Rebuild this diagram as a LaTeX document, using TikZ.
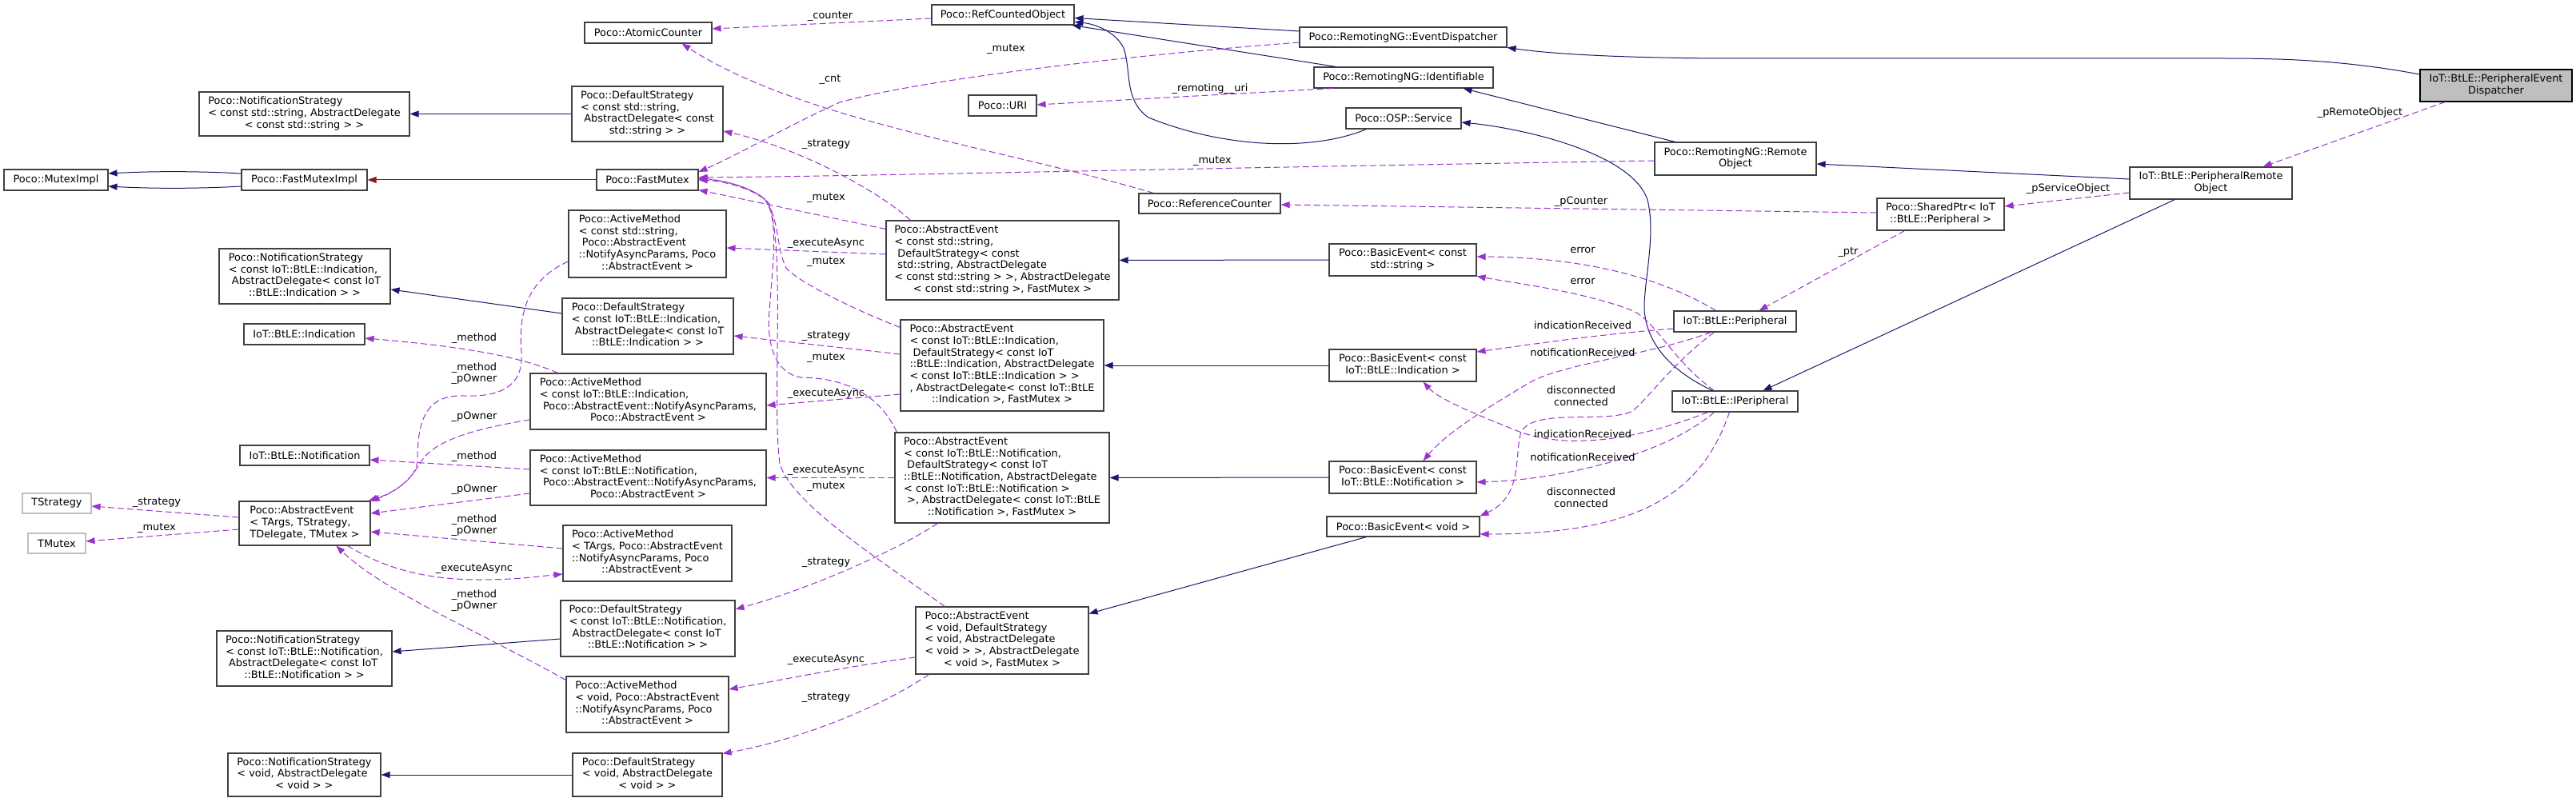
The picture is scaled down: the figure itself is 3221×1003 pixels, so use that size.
\documentclass[tikz,border=0pt]{standalone}
\usepackage{fontspec}
\setmainfont{DejaVu Sans}
\usetikzlibrary{arrows.meta,calc}
\definecolor{mblue}{HTML}{191970}
\definecolor{orchid}{HTML}{9A32CD}
\definecolor{fbrick}{HTML}{8B1A1A}
\definecolor{bord}{HTML}{404040}
\definecolor{grsev}{HTML}{BFBFBF}
\newcommand\lastln[1]{\multicolumn{1}{@{}c@{}}{#1}}
\newcommand\mlt[1]{\begin{tabular}{@{}l@{}}#1\end{tabular}}
\newcommand\mkbox[7][]{\node[box,#1,minimum width={(#5-#3)*1pt},minimum height={(#6-#4)*1pt}] (#2) at ({(#3+#5)/2},{(#4+#6)/2}) {#7};}
\begin{document}
\begin{tikzpicture}[x=1pt,y=-1pt,
  box/.style={draw=bord, line width=1.1pt, fill=white, inner sep=0pt, text=black, font=\fontsize{12.9}{14.67}\selectfont},
  lbl/.style={inner sep=0pt, align=center, text=black, font=\fontsize{12.9}{14.67}\selectfont},
  inh/.style={draw=mblue, line width=1pt, -{Triangle[length=11pt,width=8pt]}},
  priv/.style={draw=fbrick, line width=1pt, -{Triangle[length=11pt,width=8pt]}},
  dep/.style={draw=orchid, line width=1pt, dash pattern=on 8pt off 4pt, -{Triangle[length=11pt,width=8pt]}}]
\useasboundingbox (0,0) rectangle (3221,1003);
\fill[white] (0,0) rectangle (3221,1003);
% ---------------- nodes ----------------
\mkbox{mutexImpl}{5}{212}{135}{238}{Poco::MutexImpl}
\mkbox{fastMutexImpl}{302}{212}{459}{238}{Poco::FastMutexImpl}
\mkbox{fastMutex}{746}{212}{873}{238}{Poco::FastMutex}
\mkbox{atomicCounter}{731}{28}{890}{54}{Poco::AtomicCounter}
\mkbox{notifStrStr}{249}{115}{512}{170}{\mlt{Poco::NotificationStrategy\\< const std::string, AbstractDelegate\\\lastln{< const std::string > >}}}
\mkbox{defStrStr}{715}{108}{904}{177}{\mlt{Poco::DefaultStrategy\\< const std::string,\\\ AbstractDelegate< const\\\lastln{std::string > >}}}
\mkbox{amStr}{711}{263}{908}{347}{\mlt{Poco::ActiveMethod\\< const std::string,\\\ Poco::AbstractEvent\\::NotifyAsyncParams, Poco\\\lastln{::AbstractEvent >}}}
\mkbox{notifStrInd}{274}{311}{488}{380}{\mlt{Poco::NotificationStrategy\\< const IoT::BtLE::Indication,\\\ AbstractDelegate< const IoT\\\lastln{::BtLE::Indication > >}}}
\mkbox{defStrInd}{703}{373}{917}{443}{\mlt{Poco::DefaultStrategy\\< const IoT::BtLE::Indication,\\\ AbstractDelegate< const IoT\\\lastln{::BtLE::Indication > >}}}
\mkbox{indication}{305}{405}{456}{431}{IoT::BtLE::Indication}
\mkbox{amInd}{663}{467}{958}{537}{\mlt{Poco::ActiveMethod\\< const IoT::BtLE::Indication,\\\ Poco::AbstractEvent::NotifyAsyncParams,\\\lastln{Poco::AbstractEvent >}}}
\mkbox{notification}{300}{557}{462}{582}{IoT::BtLE::Notification}
\mkbox{amNotif}{663}{563}{958}{632}{\mlt{Poco::ActiveMethod\\< const IoT::BtLE::Notification,\\\ Poco::AbstractEvent::NotifyAsyncParams,\\\lastln{Poco::AbstractEvent >}}}
\mkbox[draw=grsev]{tStrategy}{28}{617}{114}{642}{TStrategy}
\mkbox[draw=grsev]{tMutex}{35}{667}{107}{692}{TMutex}
\mkbox{aeTArgs}{299}{627}{463}{682}{\mlt{Poco::AbstractEvent\\< TArgs, TStrategy,\\\lastln{TDelegate, TMutex >}}}
\mkbox{amTArgs}{704}{657}{915}{727}{\mlt{Poco::ActiveMethod\\< TArgs, Poco::AbstractEvent\\::NotifyAsyncParams, Poco\\\lastln{::AbstractEvent >}}}
\mkbox{defStrNotif}{701}{751}{919}{821}{\mlt{Poco::DefaultStrategy\\< const IoT::BtLE::Notification,\\\ AbstractDelegate< const IoT\\\lastln{::BtLE::Notification > >}}}
\mkbox{notifStrNotif}{271}{789}{490}{858}{\mlt{Poco::NotificationStrategy\\< const IoT::BtLE::Notification,\\\ AbstractDelegate< const IoT\\\lastln{::BtLE::Notification > >}}}
\mkbox{amVoid}{708}{846}{911}{916}{\mlt{Poco::ActiveMethod\\< void, Poco::AbstractEvent\\::NotifyAsyncParams, Poco\\\lastln{::AbstractEvent >}}}
\mkbox{notifStrVoid}{285}{942}{476}{996}{\mlt{Poco::NotificationStrategy\\< void, AbstractDelegate\\\lastln{< void > >}}}
\mkbox{defStrVoid}{716}{942}{903}{996}{\mlt{Poco::DefaultStrategy\\< void, AbstractDelegate\\\lastln{< void > >}}}
\mkbox{refCounted}{1165}{6}{1343}{31}{Poco::RefCountedObject}
\mkbox{eventDispatcher}{1625}{34}{1884}{59}{Poco::RemotingNG::EventDispatcher}
\mkbox{identifiable}{1643}{84}{1867}{110}{Poco::RemotingNG::Identifiable}
\mkbox{uri}{1211}{119}{1296}{145}{Poco::URI}
\mkbox{ospService}{1683}{135}{1827}{161}{Poco::OSP::Service}
\mkbox{remoteObject}{2069}{178}{2271}{219}{\mlt{Poco::RemotingNG::Remote\\\lastln{Object}}}
\mkbox{referenceCounter}{1424}{242}{1601}{267}{Poco::ReferenceCounter}
\mkbox{aeStr}{1108}{276}{1399}{375}{\mlt{Poco::AbstractEvent\\< const std::string,\\\ DefaultStrategy< const\\\ std::string, AbstractDelegate\\< const std::string > >, AbstractDelegate\\\lastln{< const std::string >, FastMutex >}}}
\mkbox{basicStr}{1662}{305}{1846}{345}{\mlt{Poco::BasicEvent< const\\\lastln{std::string >}}}
\mkbox{aeInd}{1126}{400}{1380}{514}{\mlt{Poco::AbstractEvent\\< const IoT::BtLE::Indication,\\\ DefaultStrategy< const IoT\\::BtLE::Indication, AbstractDelegate\\< const IoT::BtLE::Indication > >\\, AbstractDelegate< const IoT::BtLE\\\lastln{::Indication >, FastMutex >}}}
\mkbox{basicInd}{1662}{437}{1846}{477}{\mlt{Poco::BasicEvent< const\\\lastln{IoT::BtLE::Indication >}}}
\mkbox{aeNotif}{1119}{541}{1387}{654}{\mlt{Poco::AbstractEvent\\< const IoT::BtLE::Notification,\\\ DefaultStrategy< const IoT\\::BtLE::Notification, AbstractDelegate\\< const IoT::BtLE::Notification >\\\ >, AbstractDelegate< const IoT::BtLE\\\lastln{::Notification >, FastMutex >}}}
\mkbox{basicNotif}{1662}{577}{1846}{617}{\mlt{Poco::BasicEvent< const\\\lastln{IoT::BtLE::Notification >}}}
\mkbox{basicVoid}{1659}{646}{1850}{671}{Poco::BasicEvent< void >}
\mkbox{aeVoid}{1145}{759}{1361}{843}{\mlt{Poco::AbstractEvent\\< void, DefaultStrategy\\< void, AbstractDelegate\\< void > >, AbstractDelegate\\\lastln{< void >, FastMutex >}}}
\mkbox{peripheral}{2093}{389}{2246}{415}{IoT::BtLE::Peripheral}
\mkbox{iPeripheral}{2091}{489}{2248}{515}{IoT::BtLE::IPeripheral}
\mkbox{sharedPtr}{2347}{248}{2506}{288}{\mlt{Poco::SharedPtr< IoT\\\lastln{::BtLE::Peripheral >}}}
\mkbox{peripheralRemoteObject}{2663}{209}{2866}{249}{\mlt{IoT::BtLE::PeripheralRemote\\\lastln{Object}}}
\mkbox[fill=grsev, draw=black]{ped}{3026}{87}{3216}{127}{\mlt{IoT::BtLE::PeripheralEvent\\\lastln{Dispatcher}}}
% ---------------- inheritance ----------------
\draw[inh] ($(fastMutexImpl.west)+(0,-8)$) .. controls (250,214) and (190,214) .. ($(mutexImpl.east)+(0,-8)$);
\draw[inh] ($(fastMutexImpl.west)+(0,8)$) .. controls (250,236) and (190,236) .. ($(mutexImpl.east)+(0,8)$);
\draw[priv] (fastMutex.west) -- (fastMutexImpl.east);
\draw[inh] (defStrStr.west) -- (notifStrStr.east);
\draw[inh] ($(defStrInd.west)+(0,-16)$) -- ($(notifStrInd.east)+(0,16.5)$);
\draw[inh] ($(defStrNotif.west)+(0,13)$) -- ($(notifStrNotif.east)+(0,-8.5)$);
\draw[inh] (defStrVoid.west) -- (notifStrVoid.east);
\draw[inh] ($(eventDispatcher.west)+(0,-7.5)$) -- ($(refCounted.east)+(0,4)$);
\draw[inh] ($(identifiable.north west)+(28,0)$) -- ($(refCounted.south east)+(-3,0)$);
\draw[inh] ($(ospService.south west)+(26,0)$) .. controls (1640,190) and (1530,185) .. (1436,147) .. controls (1405,125) and (1415,90) .. (1405,60) .. controls (1395,40) and (1370,30) .. ($(refCounted.east)+(0,9)$);
\draw[inh] ($(ped.west)+(0,-14)$) .. controls (2930,75) and (2850,73) .. (2779,73) -- (2150,73) .. controls (2000,72) and (1930,66) .. ($(eventDispatcher.east)+(0,13)$);
\draw[inh] ($(iPeripheral.north west)+(51,0)$) .. controls (2080,460) and (2055,420) .. (2056,380) .. controls (2058,340) and (2070,290) .. (2060,250) .. controls (2040,190) and (1900,160) .. ($(ospService.east)+(0,5)$);
\draw[inh] ($(remoteObject.north west)+(26,0)$) -- ($(identifiable.south east)+(-38,0)$);
\draw[inh] ($(peripheralRemoteObject.west)+(0,-5)$) -- ($(remoteObject.east)+(0,6.5)$);
\draw[inh] ($(peripheralRemoteObject.south west)+(57,0)$) -- ($(iPeripheral.north east)+(-44,0)$);
\draw[inh] (basicStr.west) -- (aeStr.east);
\draw[inh] (basicInd.west) -- (aeInd.east);
\draw[inh] (basicNotif.west) -- (aeNotif.east);
\draw[inh] ($(basicVoid.south west)+(50,0)$) -- ($(aeVoid.north east)+(0,9)$);
% ---------------- usage ----------------
\draw[dep] ($(refCounted.west)+(0,4.5)$) -- ($(atomicCounter.east)+(0,-5)$);
\node[lbl] (lcounter) at (1038,20) {\_counter};
\draw[dep] ($(referenceCounter.north west)+(19,0)$) .. controls (1250,185) and (1000,150) .. ($(atomicCounter.south east)+(-38,0)$);
\node[lbl] (lcnt) at (1038,99) {\_cnt};
\draw[dep] ($(eventDispatcher.west)+(0,6.5)$) .. controls (1400,70) and (1150,100) .. (1050,128) .. controls (980,160) and (920,195) .. ($(fastMutex.east)+(0,-10)$);
\node[lbl] (lmutexA) at (1258,61) {\_mutex};
\draw[dep] ($(identifiable.south west)+(24,0)$) -- ($(uri.east)+(0,-1)$);
\node[lbl] (luri) at (1513,111) {\_remoting\_\_uri};
\draw[dep] ($(remoteObject.west)+(0,2.5)$) .. controls (1500,210) and (1100,220) .. ($(fastMutex.east)+(0,-3)$);
\node[lbl] (lmutexB) at (1516,201) {\_mutex};
\draw[dep] ($(ped.south west)+(32,0)$) -- ($(peripheralRemoteObject.north east)+(-37,0)$);
\node[lbl] (lremote) at (2951,141) {\_pRemoteObject};
\draw[dep] ($(peripheralRemoteObject.west)+(0,12)$) -- ($(sharedPtr.east)+(0,-10)$);
\node[lbl] (lservice) at (2586,236) {\_pServiceObject};
\draw[dep] ($(sharedPtr.west)+(0,-2)$) -- ($(referenceCounter.east)+(0,1.5)$);
\node[lbl] (lpcounter) at (1977,252) {\_pCounter};
\draw[dep] ($(sharedPtr.south west)+(35,0)$) -- ($(peripheral.north west)+(107,0)$);
\node[lbl] (lptr) at (2311,315) {\_ptr};
\draw[dep] ($(peripheral.north west)+(53,0)$) .. controls (2090,355) and (2000,322) .. ($(basicStr.east)+(0,-4)$);
\node[lbl] (lerrA) at (1979,313) {error};
\draw[dep] ($(iPeripheral.north west)+(53,0)$) .. controls (2090,450) and (2070,400) .. (2040,388) .. controls (1980,365) and (1900,355) .. (basicStr.south east);
\node[lbl] (lerrB) at (1979,352) {error};
\draw[dep] ($(peripheral.west)+(0,9)$) .. controls (2000,418) and (1920,430) .. ($(basicInd.east)+(0,-17)$);
\node[lbl] (lindA) at (1979,407) {indicationReceived};
\draw[dep] ($(peripheral.south west)+(47,0)$) .. controls (2060,445) and (1950,455) .. (1910,480) .. controls (1860,510) and (1810,540) .. ($(basicNotif.north west)+(118,0)$);
\node[lbl] (lnotA) at (1979,441) {notificationReceived};
\draw[dep] ($(peripheral.south west)+(51,0)$) .. controls (2090,455) and (2060,500) .. (2040,515) .. controls (2000,530) and (1920,510) .. (1902,540) .. controls (1893,570) and (1905,620) .. (basicVoid.north east);
\node[lbl] (lconA) at (1977,495) {disconnected\\connected};
\draw[dep] ($(iPeripheral.south west)+(45,0)$) .. controls (2060,545) and (1970,565) .. (1900,540) .. controls (1850,520) and (1800,500) .. ($(basicInd.south west)+(118,0)$);
\node[lbl] (lindB) at (1979,543) {indicationReceived};
\draw[dep] ($(iPeripheral.south west)+(53,0)$) .. controls (2080,570) and (1950,600) .. ($(basicNotif.east)+(0,6)$);
\node[lbl] (lnotB) at (1979,572) {notificationReceived};
\draw[dep] ($(iPeripheral.south west)+(72,0)$) .. controls (2130,610) and (2060,668) .. ($(basicVoid.east)+(0,9.5)$);
\node[lbl] (lconB) at (1977,622) {disconnected\\connected};
% AbstractEvent<string>
\draw[dep] ($(aeStr.north west)+(0,11)$) -- ($(fastMutex.south east)+(0,-1)$);
\node[lbl] (lmutexC) at (1033,247) {\_mutex};
\draw[dep] ($(aeStr.north west)+(31,0)$) .. controls (1100,240) and (1000,185) .. ($(defStrStr.east)+(0,21.5)$);
\node[lbl] (lstratA) at (1033,180) {\_strategy};
\draw[dep] ($(aeStr.west)+(0,-7.5)$) -- ($(amStr.east)+(0,5)$);
\node[lbl] (lexecA) at (1033,304) {\_executeAsync};
% AbstractEvent<Indication>
\draw[dep] ($(aeInd.north west)+(0,10)$) .. controls (1080,392) and (1000,355) .. (983,335) .. controls (970,310) and (975,270) .. (955,248) .. controls (935,232) and (900,225) .. ($(fastMutex.east)+(0,-2)$);
\node[lbl] (lmutexD) at (1033,327) {\_mutex};
\draw[dep] ($(aeInd.west)+(0,-14)$) -- ($(defStrInd.east)+(0,12)$);
\node[lbl] (lstratB) at (1033,420) {\_strategy};
\draw[dep] ($(aeInd.west)+(0,36)$) -- ($(amInd.east)+(0,5)$);
\node[lbl] (lexecB) at (1033,492) {\_executeAsync};
% AbstractEvent<Notification>
\draw[dep] ($(aeNotif.north west)+(3,0)$) .. controls (1100,495) and (1060,473) .. (1002,472) .. controls (970,468) and (958,430) .. (962,390) .. controls (966,330) and (975,270) .. (955,248) .. controls (935,232) and (900,225) .. ($(fastMutex.east)+(0,-1)$);
\node[lbl] (lmutexE) at (1033,447) {\_mutex};
\draw[dep] (aeNotif.west) -- (amNotif.east);
\node[lbl] (lexecC) at (1033,588) {\_executeAsync};
\draw[dep] ($(aeNotif.south west)+(54,0)$) .. controls (1110,695) and (1000,740) .. ($(defStrNotif.east)+(0,-24)$);
\node[lbl] (lstratC) at (1033,703) {\_strategy};
% AbstractEvent<void>
\draw[dep] ($(aeVoid.north west)+(37,0)$) .. controls (1100,700) and (990,630) .. (975,580) .. controls (965,500) and (982,320) .. (962,255) .. controls (945,235) and (900,226) .. (fastMutex.east);
\node[lbl] (lmutexF) at (1033,608) {\_mutex};
\draw[dep] ($(aeVoid.west)+(0,21)$) .. controls (1050,835) and (980,850) .. ($(amVoid.east)+(0,-19)$);
\node[lbl] (lexecD) at (1033,825) {\_executeAsync};
\draw[dep] ($(aeVoid.south west)+(17,0)$) .. controls (1100,885) and (1000,925) .. ($(defStrVoid.north east)+(0,1)$);
\node[lbl] (lstratD) at (1033,872) {\_strategy};
% ActiveMethods -> AbstractEvent<TArgs>
\draw[dep] ($(amStr.west)+(0,22)$) .. controls (660,350) and (648,390) .. (652,440) .. controls (655,480) and (630,497) .. (580,495) .. controls (530,493) and (522,530) .. (522,577) .. controls (520,600) and (490,617) .. ($(aeTArgs.north east)+(-3,0)$);
\node[lbl] (lmpA) at (593,467) {\_method\\\_pOwner};
\draw[dep] ($(amInd.north west)+(35,0)$) .. controls (660,450) and (600,435) .. ($(indication.east)+(0,5)$);
\node[lbl] (lmethA) at (593,423) {\_method};
\draw[dep] ($(amInd.west)+(0,23)$) .. controls (600,535) and (540,550) .. (525,580) .. controls (510,605) and (490,617) .. (aeTArgs.north east);
\node[lbl] (lownA) at (593,521) {\_pOwner};
\draw[dep] ($(amNotif.west)+(0,-10.5)$) -- ($(notification.east)+(0,5.5)$);
\node[lbl] (lmethB) at (593,571) {\_method};
\draw[dep] ($(amNotif.west)+(0,19.5)$) -- ($(aeTArgs.east)+(0,-12.5)$);
\node[lbl] (lownB) at (593,612) {\_pOwner};
\draw[dep] ($(amTArgs.west)+(0,-6)$) -- ($(aeTArgs.east)+(0,10.5)$);
\node[lbl] (lmpB) at (593,657) {\_method\\\_pOwner};
\draw[dep] ($(aeTArgs.south west)+(136,0)$) .. controls (480,710) and (530,725) .. (600,725) .. controls (650,725) and (680,720) .. ($(amTArgs.west)+(0,26)$);
\node[lbl] (lexecE) at (593,711) {\_executeAsync};
\draw[dep] ($(amVoid.north west)+(0,5)$) .. controls (600,790) and (480,740) .. ($(aeTArgs.south west)+(122,0)$);
\node[lbl] (lmpC) at (593,751) {\_method\\\_pOwner};
\draw[dep] ($(aeTArgs.west)+(0,-7.5)$) -- ($(tStrategy.east)+(0,3.5)$);
\node[lbl] (lstratE) at (196,628) {\_strategy};
\draw[dep] ($(aeTArgs.west)+(0,7.5)$) -- ($(tMutex.east)+(0,-2.5)$);
\node[lbl] (lmutexG) at (196,660) {\_mutex};
\end{tikzpicture}
\end{document}
